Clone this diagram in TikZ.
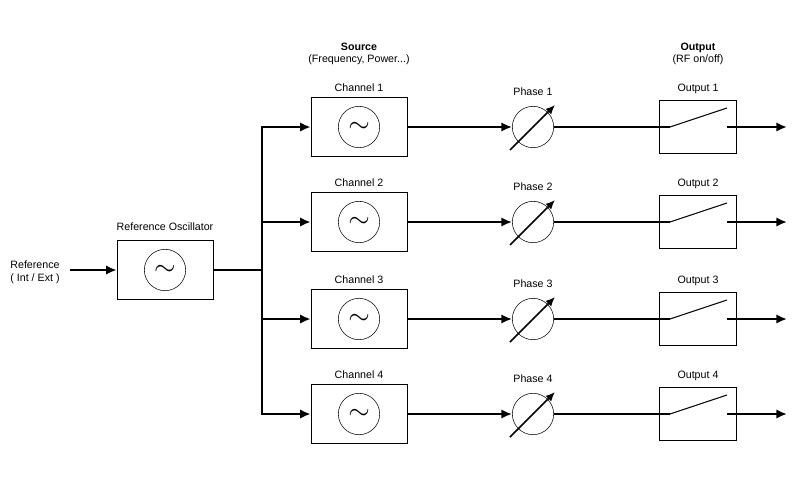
\documentclass[tikz,border=0pt]{standalone}
\usepackage{fontspec}
\setmainfont{Liberation Sans}
\usetikzlibrary{arrows.meta,positioning,calc}
\tikzset{
  box/.style={draw, thin, minimum width=72pt, minimum height=44pt, inner sep=0pt},
  outbox/.style={draw, thin, minimum width=58pt, minimum height=40pt, inner sep=0pt},
  osc/.style={draw, thin, circle, minimum size=31pt, inner sep=0pt, font=\huge},
  lbl/.style={font=\fontsize{8}{9.5}\selectfont, align=center},
  sig/.style={line width=2.2pt},
  sigarrow/.style={line width=2.2pt, -{Latex[length=8pt,width=7pt]}},
}
\begin{document}
\begin{tikzpicture}[x=0.75pt,y=-0.75pt]
\useasboundingbox (0,0) rectangle (795,490);

% Reference oscillator
\node[box] (refbox) at (165,270) {};
\node[osc] (refosc) at (refbox.center) {$\sim$};
\node[lbl, above=4pt of refbox] {Reference Oscillator};
\node[lbl] (refin) at (35,272) {Reference\\( Int / Ext )};
\coordinate (refstart) at (70,270);
\draw[sigarrow] (refstart) -- (refbox.west);
\coordinate (busmid) at (262,270);
\draw[sig] (refbox.east) -- (busmid);
\coordinate (bustop) at (262,127);
\coordinate (busbot) at (262,414);
\draw[sig, line cap=rect] (bustop) -- (busbot);

% Headers
\node[lbl] at (359,54) {\textbf{Source}\\(Frequency, Power...)};
\node[lbl] at (698,54) {\textbf{Output}\\(RF on/off)};

% Channels
\foreach \i/\y in {1/127,2/222,3/319,4/414}{
  \coordinate (bus\i) at (262,\y);
  \node[box] (ch\i) at (359,\y) {};
  \node[osc] (chosc\i) at (ch\i.center) {$\sim$};
  \node[lbl, above=1pt of ch\i] {Channel \i};
  \draw[sigarrow] (bus\i) -- (ch\i.west);
  % phase shifter
  \node[osc] (ph\i) at (533,\y) {};
  \node[lbl, above=4pt of ph\i] {Phase \i};
  \draw[sigarrow] (ch\i.east) -- (ph\i.west);
  \draw[line width=1.3pt, -{Latex[length=7pt,width=6pt]}] ($(ph\i.center)+(-23,23)$) -- ($(ph\i.center)+(22,-22)$);
  % output switch
  \node[outbox] (out\i) at (698,\y) {};
  \node[lbl, above=1pt of out\i] {Output \i};
  \coordinate (piv\i) at (670,\y);
  \coordinate (tip\i) at (727,\y-19);
  \coordinate (oend\i) at (787,\y);
  \draw[sig] (ph\i.east) -- (piv\i);
  \draw[thick] (piv\i) -- (tip\i);
  \draw[sigarrow] (727,\y) -- (oend\i);
}
\end{tikzpicture}
\end{document}
